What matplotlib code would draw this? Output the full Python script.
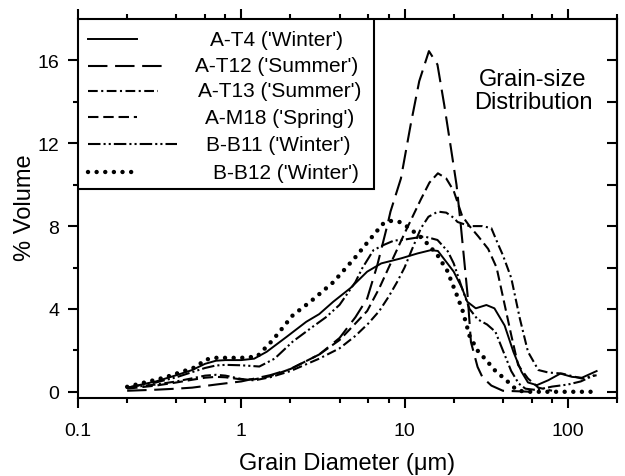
import numpy as np
import matplotlib
matplotlib.use("Agg")
import matplotlib.pyplot as plt
from matplotlib.ticker import LogLocator, FixedLocator, NullFormatter
from matplotlib.patches import Rectangle

plt.rcParams['font.family'] = ['Liberation Sans', 'DejaVu Sans']
plt.rcParams['lines.scale_dashes'] = False

# grain diameter (um) / % volume
at4_x = [0.2, 0.3, 0.4, 0.5, 0.6, 0.7, 0.8, 1.0, 1.2, 1.43, 1.9, 2.5, 3.0, 3.66, 4.65, 5.9, 7.2, 9.5,
         12, 14.5, 16, 17.5, 20, 22.5, 24.2, 27.3, 31.7, 35.5, 41, 46.4, 52, 57, 64.6, 76, 90, 106, 122, 150]
at4_y = [0.2, 0.5, 0.8, 1.05, 1.35, 1.5, 1.53, 1.53, 1.6, 1.93, 2.66, 3.38, 3.75, 4.35, 5.0, 5.8, 6.2, 6.44,
         6.68, 6.84, 6.8, 6.4, 5.8, 5.0, 4.35, 4.03, 4.19, 4.03, 3.2, 1.93, 0.97, 0.45, 0.32, 0.56, 0.88, 0.72, 0.68, 1.0]

at12_x = [0.2, 0.3, 0.4, 0.5, 0.7, 1.0, 1.5, 2, 3, 4, 5, 5.9, 6.8, 7.85, 8.2, 9.5, 10.9, 12.3, 14.1,
          15.9, 17.5, 19.2, 20.8, 22, 24.3, 25.5, 28, 30, 34, 40, 60]
at12_y = [0.05, 0.1, 0.15, 0.2, 0.35, 0.5, 0.8, 1.1, 1.8, 2.6, 3.6, 4.5, 6.1, 8.05, 8.7, 10.3, 12.9, 15.0, 16.45,
          15.8, 13.85, 11.8, 10.0, 8.2, 4.7, 2.4, 1.2, 0.7, 0.3, 0.05, 0.0]

at13_x = [0.2, 0.3, 0.4, 0.5, 0.6, 0.7, 0.8, 1.0, 1.2, 1.5, 2, 3, 4, 5, 6, 7, 8, 9, 10, 11, 12.6, 14, 16,
          18, 20, 21.1, 25, 30, 34, 37.5, 40, 45, 50.8, 57, 66, 76, 92, 122, 150]
at13_y = [0.2, 0.35, 0.5, 0.65, 0.78, 0.82, 0.78, 0.62, 0.55, 0.7, 1.0, 1.6, 2.1, 2.7, 3.3, 3.9, 4.6, 5.3, 6.0,
          6.8, 7.9, 8.45, 8.7, 8.65, 8.4, 8.2, 8.0, 8.0, 7.9, 7.1, 6.6, 5.5, 3.54, 1.93, 1.05, 0.93, 0.88, 0.64, 0.8]

am18_x = [0.2, 0.3, 0.4, 0.5, 0.6, 0.7, 0.8, 1.0, 1.2, 1.5, 2, 3, 4, 5, 5.9, 7, 8, 10, 12.6, 14.2, 16, 18,
          20, 22.5, 25, 28.3, 32.5, 36.6, 40, 45, 49.6, 57, 66, 80]
am18_y = [0.15, 0.3, 0.45, 0.58, 0.68, 0.72, 0.7, 0.6, 0.6, 0.75, 1.1, 1.8, 2.5, 3.3, 3.9, 5.0, 6.0, 7.65, 9.3,
          10.1, 10.55, 10.3, 9.7, 8.5, 8.0, 7.5, 6.9, 6.0, 4.6, 2.74, 1.29, 0.64, 0.2, 0.05]

bb11_x = [0.2, 0.3, 0.4, 0.5, 0.6, 0.7, 0.8, 1.0, 1.29, 1.6, 2.07, 2.75, 3.3, 4, 5, 5.5, 6.45, 7.5, 8.6, 10,
          12, 13.2, 15.9, 18.4, 20, 22.5, 25, 28, 32, 36, 40, 45, 50, 55, 62, 70, 80, 100, 120, 150]
bb11_y = [0.2, 0.45, 0.7, 0.95, 1.15, 1.27, 1.3, 1.28, 1.22, 1.6, 2.43, 3.15, 3.6, 4.2, 5.3, 5.96, 6.84, 7.1,
          7.3, 7.35, 7.45, 7.5, 7.33, 6.78, 6.2, 5.0, 4.0, 3.5, 3.25, 2.9, 2.0, 1.0, 0.4, 0.15, 0.1, 0.15, 0.25,
          0.35, 0.5, 0.85]

bb12_x = [0.2, 0.34, 0.53, 0.6, 0.7, 0.85, 1.0, 1.25, 1.56, 2.07, 2.65, 3.67, 5.0, 6.05, 7.35, 8.2, 9.3,
          10.4, 12.9, 14.5, 15.9, 17.1, 18.4, 19.2, 20.9, 22.7, 25, 28.3, 31.7, 35, 39.7, 44.6, 48.6, 55, 70,
          100, 150]
bb12_y = [0.24, 0.69, 1.2, 1.55, 1.64, 1.64, 1.64, 1.7, 2.5, 3.7, 4.35, 5.3, 6.5, 7.3, 8.1, 8.25, 8.2, 7.97,
          7.4, 6.96, 6.6, 6.2, 5.8, 5.4, 4.67, 3.9, 2.7, 1.93, 1.53, 1.1, 0.72, 0.37, 0.08, 0.0, 0.0, 0.0, 0.0]

labels = ["A-T4 ('Winter')", "A-T12 ('Summer')", "A-T13 ('Summer')",
          "A-M18 ('Spring')", "B-B11 ('Winter')", "B-B12 ('Winter')"]
xs = [at4_x, at12_x, at13_x, am18_x, bb11_x, bb12_x]
ys = [at4_y, at12_y, at13_y, am18_y, bb11_y, bb12_y]

# line styles (dash lengths in points)
styles = [
    dict(ls='-', lw=1.4),
    dict(ls=(0, (14, 5.5)), lw=1.5),
    dict(ls=(0, (7, 2.5, 1.5, 2.5)), lw=1.5),
    dict(ls=(0, (7.5, 3.5)), lw=1.5),
    dict(ls=(0, (9, 2.2, 1.5, 2.2, 1.5, 2.2)), lw=1.5),
    dict(ls=(0, (0.01, 6.2)), lw=3.2),
]

W, H = 625, 477
fig = plt.figure(figsize=(W / 100, H / 100), dpi=100)
L, R, T, B = 78, 617, 20, 399
ax = fig.add_axes([L / W, 1 - B / H, (R - L) / W, (B - T) / H])

for x, y, st in zip(xs, ys, styles):
    ax.plot(x, y, color='black', linestyle=st['ls'], linewidth=st['lw'],
            dash_capstyle='round' if st['lw'] > 3 else 'butt')

ax.set_xscale('log')
ax.set_xlim(0.1, 200)
ax.set_ylim(-0.3, 18.0)

ax.xaxis.set_major_locator(FixedLocator([0.1, 1, 10, 100]))
ax.set_xticklabels(['0.1', '1', '10', '100'])
ax.xaxis.set_minor_locator(LogLocator(base=10, subs=(2, 4, 6, 8)))
ax.xaxis.set_minor_formatter(NullFormatter())
ax.set_yticks([0, 4, 8, 12, 16])
ax.yaxis.set_minor_locator(FixedLocator([2, 6, 10, 14]))

ax.tick_params(which='major', direction='out', length=7.5, width=1.5, labelsize=14,
               top=True, right=False)
ax.tick_params(which='minor', direction='out', length=3.8, width=1.5, top=True, right=False)
ax.tick_params(axis='x', which='major', pad=10)
ax.tick_params(axis='y', which='major', pad=6)

# right-hand ticks point inward
sec = ax.secondary_yaxis('right')
sec.set_yticks([0, 2, 4, 6, 8, 10, 12, 14, 16])
sec.tick_params(direction='in', length=7, width=1.5, labelright=False)
sec.spines['right'].set_linewidth(1.5)

for s in ax.spines.values():
    s.set_linewidth(1.5)

def fx(px):
    return (px - L) / (R - L)

def fy(py):
    return (B - py) / (B - T)

ax.set_xlabel('Grain Diameter (μm)', fontsize=17)
ax.set_ylabel('% Volume', fontsize=17)
ax.xaxis.set_label_coords(fx(347), fy(464))
ax.yaxis.set_label_coords(fx(25), fy(208))
ax.xaxis.label.set_va('center')
ax.yaxis.label.set_va('center')

ax.text(fx(533), fy(80), 'Grain-size', transform=ax.transAxes,
        ha='center', va='center', fontsize=17)
ax.text(fx(533), fy(103), 'Distribution', transform=ax.transAxes,
        ha='center', va='center', fontsize=17)

# hand-drawn legend box
ax.add_patch(Rectangle((0, fy(190)), fx(374), 1 - fy(190), transform=ax.transAxes,
                       facecolor='white', edgecolor='black', linewidth=1.5, zorder=5))
rows = [40, 66.7, 91.7, 118.3, 145, 173.3]
ends = [137, 166, 158, 137, 177, 133]
centers = [277, 277, 280, 280, 278, 286]
for py, pe, cx, st, lab in zip(rows, ends, centers, styles, labels):
    ax.plot([fx(88), fx(pe)], [fy(py), fy(py)], transform=ax.transAxes, color='black',
            linestyle=st['ls'], linewidth=st['lw'], zorder=6, clip_on=False,
            dash_capstyle='round' if st['lw'] > 3 else 'butt')
    ax.text(fx(cx), fy(py), lab, transform=ax.transAxes, ha='center', va='center',
            fontsize=15, zorder=6)

fig.savefig('out.png', dpi=100)
